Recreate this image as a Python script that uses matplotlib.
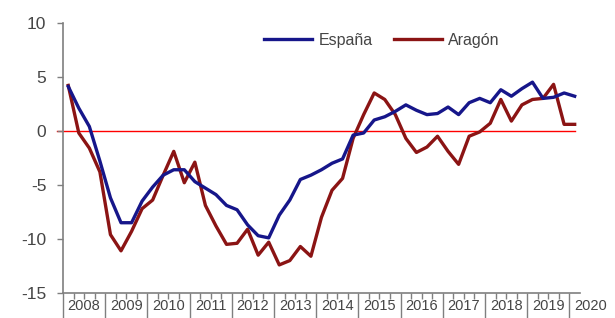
import numpy as np
import matplotlib
matplotlib.use("Agg")
import matplotlib.pyplot as plt

# quarterly series, 2008 T1 .. 2020 T1
espana = [4.1, 2.1, 0.4, -2.8, -6.2, -8.5, -8.5, -6.5, -5.2, -4.1,
          -3.6, -3.6, -4.7, -5.3, -5.9, -6.9, -7.3, -8.7, -9.7, -9.9,
          -7.8, -6.4, -4.5, -4.1, -3.6, -3.0, -2.6, -0.4, -0.2, 1.0,
          1.3, 1.8, 2.4, 1.9, 1.5, 1.6, 2.2, 1.5, 2.6, 3.0,
          2.6, 3.8, 3.2, 3.9, 4.5, 3.0, 3.1, 3.5, 3.2]
aragon = [4.2, -0.2, -1.6, -3.8, -9.6, -11.1, -9.3, -7.2, -6.4, -4.1,
          -1.9, -4.8, -2.9, -6.9, -8.8, -10.5, -10.4, -9.1, -11.5, -10.3,
          -12.4, -12.0, -10.7, -11.6, -8.0, -5.5, -4.4, -0.7, 1.5, 3.5,
          2.9, 1.5, -0.7, -2.0, -1.5, -0.5, -1.9, -3.1, -0.5, -0.1,
          0.7, 2.9, 0.9, 2.4, 2.9, 3.0, 4.3, 0.6, 0.6]
years = ["2008", "2009", "2010", "2011", "2012", "2013", "2014",
         "2015", "2016", "2017", "2018", "2019", "2020"]
yticks = [10, 5, 0, -5, -10, -15]

plt.rcParams['font.family'] = ['Liberation Sans', 'DejaVu Sans']
txt_col = '#454545'
ax_col = '#7f7f7f'

fig = plt.figure(figsize=(6.15, 3.18), dpi=100)
ax = fig.add_axes([0.1024, 0.0786, 0.8406, 0.85])

x = np.arange(len(espana)) + 0.5

# zero reference line
ax.plot([-0.6, x[-1]], [0, 0], color='#ff0000', lw=1.0, clip_on=False, zorder=1)
ax.plot(x, espana, color='#16168a', lw=2.4, label='España', zorder=3,
        solid_joinstyle='round')
ax.plot(x, aragon, color='#8b1414', lw=2.4, label='Aragón', zorder=2,
        solid_joinstyle='round')

ax.set_xlim(0, 49)
ax.set_ylim(-15, 10)

ax.set_yticks(yticks)
ax.set_yticklabels([str(v) for v in yticks], fontsize=12.5, color=txt_col)
ax.tick_params(axis='y', length=4, width=1, color=ax_col, pad=8)

# year boundaries (long ticks) and quarter ticks
ax.set_xticks(np.arange(0, 49, 4))
ax.set_xticklabels([])
ax.set_xticks(np.arange(0, 49, 1), minor=True)
ax.tick_params(axis='x', which='major', length=20, width=1, color=ax_col)
ax.tick_params(axis='x', which='minor', length=4, width=1, color=ax_col)
for k, yr in enumerate(years):
    ax.text(4 * k + 2, -15.55, yr, ha='center', va='top', fontsize=10.5,
            color=txt_col, clip_on=False)

for s in ['top', 'right']:
    ax.spines[s].set_visible(False)
for s in ['left', 'bottom']:
    ax.spines[s].set_color(ax_col)
    ax.spines[s].set_linewidth(1.2)

leg = ax.legend(loc='center', bbox_to_anchor=(0.617, 0.936), ncol=2,
                frameon=False, fontsize=11.5, handlelength=3.0,
                handletextpad=0.4, columnspacing=1.3)
for t in leg.get_texts():
    t.set_color(txt_col)

fig.savefig('out.png', dpi=100)
